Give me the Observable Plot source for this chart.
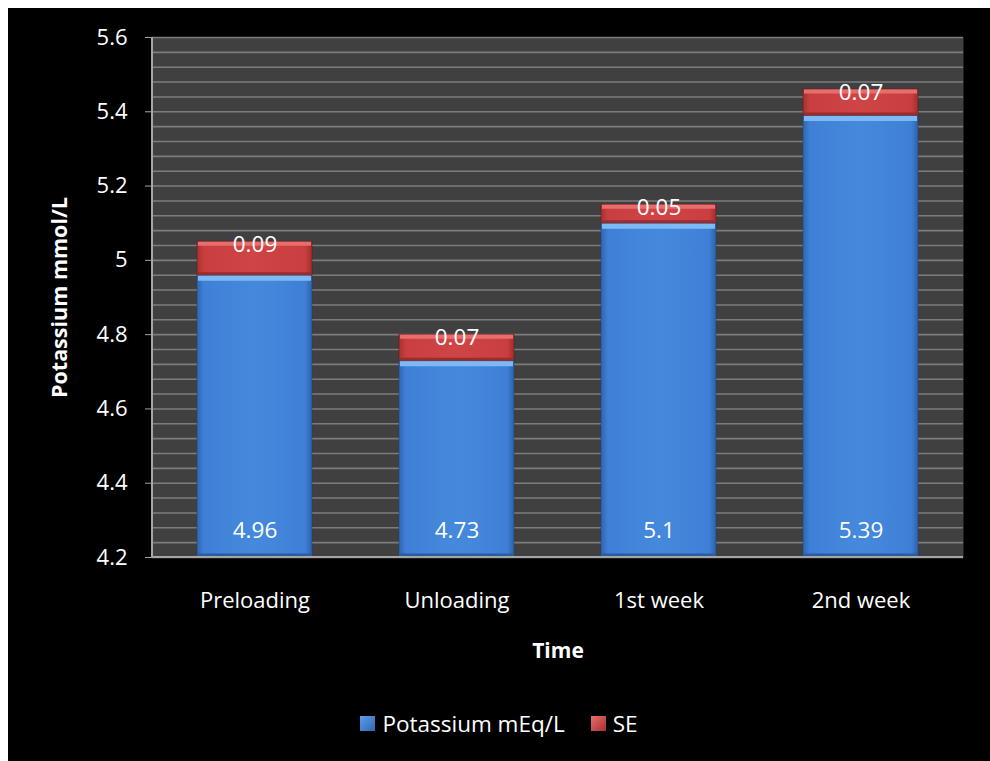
<!DOCTYPE html>
<html>
<head>
<meta charset="utf-8">
<script src="https://cdn.jsdelivr.net/npm/d3@7"></script>
<script src="https://cdn.jsdelivr.net/npm/@observablehq/plot@0.6"></script>
<style>
  html, body { margin: 0; padding: 0; background: #ffffff; }
  #wrap { position: absolute; left: 8px; top: 8px; width: 982px; height: 753px; background: #000; overflow: hidden; }
  #legend { position: absolute; left: 0; top: 702px; width: 982px; height: 26px; display: flex; justify-content: center; align-items: center;
    font-family: "Open Sans", sans-serif; font-size: 22.5px; color: #fff; }
  .sw { width: 15px; height: 15px; display: inline-block; margin-right: 7px; }
  .item { display: flex; align-items: center; margin: 0 13px; }
</style>
</head>
<body>
<div id="wrap"><div id="chart"></div><div id="legend"></div></div>
<script>
const categories = ["Preloading", "Unloading", "1st week", "2nd week"];
const potassium = [4.96, 4.73, 5.1, 5.39];
const se = [0.09, 0.07, 0.05, 0.07];
const yTicks = [4.2, 4.4, 4.6, 4.8, 5.0, 5.2, 5.4, 5.6];
const yTickLabels = ["4.2", "4.4", "4.6", "4.8", "5", "5.2", "5.4", "5.6"];
const seriesNames = ["Potassium mEq/L", "SE"];
const yTitle = "Potassium mmol/L";
const xTitle = "Time";

const yMin = 4.2, yMax = 5.6;
const gridVals = d3.range(0, 36).map(i => +(yMin + i * 0.04).toFixed(2));

const data = categories.map((c, i) => ({cat: c, value: potassium[i], se: se[i], top: +(potassium[i] + se[i]).toFixed(2)}));

const axisLine = (index, scales, values, dims) => {
  const g = d3.create("svg:g");
  g.append("line").attr("x1", dims.marginLeft).attr("x2", dims.marginLeft)
    .attr("y1", dims.marginTop).attr("y2", dims.height - dims.marginBottom)
    .attr("stroke", "#a6a6a6").attr("stroke-width", 2);
  g.append("line").attr("x1", dims.marginLeft).attr("x2", dims.width - dims.marginRight)
    .attr("y1", dims.height - dims.marginBottom).attr("y2", dims.height - dims.marginBottom)
    .attr("stroke", "#a6a6a6").attr("stroke-width", 2);
  return g.node();
};

const chart = Plot.plot({
  width: 982,
  height: 680,
  marginLeft: 144,
  marginRight: 27,
  marginTop: 29,
  marginBottom: 131,
  style: {background: "#000", color: "#fff", fontFamily: "'Open Sans', sans-serif", fontSize: "21px"},
  x: {domain: categories, paddingInner: 0.43, paddingOuter: 0.215, label: null},
  y: {domain: [yMin, yMax], label: null},
  marks: [
    Plot.frame({fill: "#404040", stroke: null}),
    Plot.gridY(gridVals, {stroke: "#7c7c7c", strokeOpacity: 1, strokeWidth: 1.6}),
    Plot.rectY(data, {x: "cat", y1: yMin, y2: "value", fill: "url(#blueGrad)", stroke: "#1f3f6a", strokeWidth: 0.8, strokeOpacity: 0.6}),
    Plot.rectY(data, {x: "cat", y1: "value", y2: "top", fill: "url(#redGrad)", stroke: "#5a1a1a", strokeWidth: 0.8, strokeOpacity: 0.6}),
    Plot.tickY(data, {x: "cat", y: "value", stroke: "#7cbaf5", strokeWidth: 5, dy: 3, inset: 1}),
    Plot.tickY(data, {x: "cat", y: "value", stroke: "#9a2c2c", strokeWidth: 3, dy: -1.5, inset: 1}),
    Plot.tickY(data, {x: "cat", y: "top", stroke: "#e86e6e", strokeWidth: 4, dy: 2, inset: 1}),
    Plot.tickY(data, {x: "cat", y: yMin, stroke: "#2a5da0", strokeWidth: 4, dy: -2, inset: 1}),
    Plot.text(data, {x: "cat", y: yMin, text: d => String(d.value), dy: -27, fill: "#fff", fontSize: 22.5, lineAnchor: "middle"}),
    Plot.text(data, {x: "cat", y: "top", text: d => d.se.toFixed(2), dy: 3, fill: "#fff", fontSize: 22.5, lineAnchor: "middle"}),
    axisLine,
    Plot.axisY({ticks: yTicks, tickSize: 7, tickPadding: 18, tickFormat: d => yTickLabels[yTicks.findIndex(t => Math.abs(t - d) < 1e-9)], stroke: "#a6a6a6", fontSize: 22, label: null}),
    Plot.axisX({tickSize: 0, tickPadding: 35, fontSize: 22, label: null}),
    Plot.text([yTitle], {frameAnchor: "left", dx: -92, rotate: -90, textAnchor: "middle", fontWeight: "bold", fontSize: 21.5, fill: "#fff", lineAnchor: "middle"}),
    Plot.text([xTitle], {frameAnchor: "bottom", dy: 94, fontWeight: "bold", fontSize: 21, fill: "#fff", lineAnchor: "middle"})
  ]
});

const defs = d3.select(chart).insert("defs", ":first-child");
const bg = defs.append("linearGradient").attr("id", "blueGrad").attr("x1", "0").attr("x2", "1").attr("y1", "0").attr("y2", "0");
[[0, "#2f66b3"], [0.06, "#3f80d6"], [0.5, "#4589dc"], [0.94, "#3f80d6"], [1, "#2d62ad"]].forEach(([o, c]) => bg.append("stop").attr("offset", o).attr("stop-color", c));
const rg = defs.append("linearGradient").attr("id", "redGrad").attr("x1", "0").attr("x2", "1").attr("y1", "0").attr("y2", "0");
[[0, "#a83030"], [0.06, "#c93f3f"], [0.5, "#cf4545"], [0.94, "#c93f3f"], [1, "#a32e2e"]].forEach(([o, c]) => rg.append("stop").attr("offset", o).attr("stop-color", c));

document.getElementById("chart").appendChild(chart);

const legend = document.getElementById("legend");
const swatchBg = ["linear-gradient(135deg, #5f9ee8, #2f66b3)", "linear-gradient(135deg, #e86e6e, #a83030)"];
seriesNames.forEach((n, i) => {
  const item = document.createElement("div");
  item.className = "item";
  const sw = document.createElement("span");
  sw.className = "sw";
  sw.style.background = swatchBg[i];
  item.appendChild(sw);
  const t = document.createElement("span");
  t.textContent = n;
  item.appendChild(t);
  legend.appendChild(item);
});
</script>
</body>
</html>
